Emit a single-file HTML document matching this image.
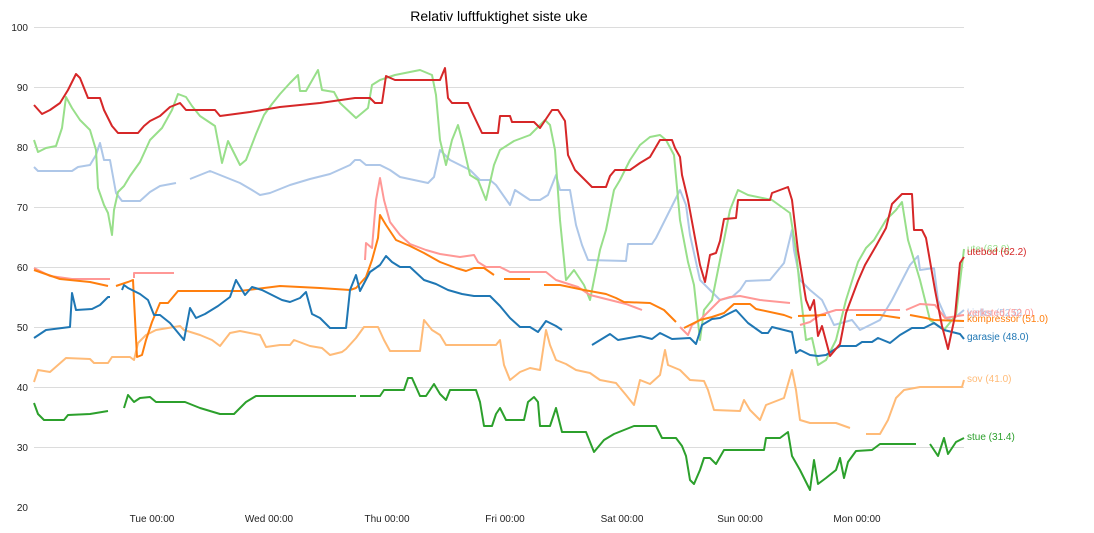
<!DOCTYPE html>
<html><head><meta charset="utf-8"><style>
body{margin:0;background:#fff;}
svg{display:block;font-family:"Liberation Sans","DejaVu Sans",sans-serif;}
</style></head><body>
<svg width="1094" height="533" viewBox="0 0 1094 533" xmlns="http://www.w3.org/2000/svg">
<text x="499" y="21" font-size="14" text-anchor="middle" fill="#000">Relativ luftfuktighet siste uke</text>
<g stroke="#dcdcdc" stroke-width="1">
<line x1="34" x2="964" y1="27.5" y2="27.5"/><line x1="34" x2="964" y1="87.5" y2="87.5"/><line x1="34" x2="964" y1="147.5" y2="147.5"/><line x1="34" x2="964" y1="207.5" y2="207.5"/><line x1="34" x2="964" y1="267.5" y2="267.5"/><line x1="34" x2="964" y1="327.5" y2="327.5"/><line x1="34" x2="964" y1="387.5" y2="387.5"/><line x1="34" x2="964" y1="447.5" y2="447.5"/>
</g>
<g font-size="10" fill="#222" text-anchor="end">
<text x="28" y="31">100</text><text x="28" y="91">90</text><text x="28" y="151">80</text><text x="28" y="211">70</text><text x="28" y="271">60</text><text x="28" y="331">50</text><text x="28" y="391">40</text><text x="28" y="451">30</text><text x="28" y="511">20</text>
</g>
<g font-size="10" fill="#222" text-anchor="middle">
<text x="152" y="522">Tue 00:00</text><text x="269" y="522">Wed 00:00</text><text x="387" y="522">Thu 00:00</text><text x="505" y="522">Fri 00:00</text><text x="622" y="522">Sat 00:00</text><text x="740" y="522">Sun 00:00</text><text x="857" y="522">Mon 00:00</text>
</g>
<g fill="none" stroke-width="2" stroke-linejoin="round">
<path stroke="#aec7e8" d="M34,167L38,171L72,171L78,167L90,165L96,155L100,143L104,160L110,160L116,193L122,201L140,201L150,192L160,186L176,183M190,179L210,171L225,177L240,183L252,190L260,195L270,193L290,185L310,179L330,174L350,165L355,160L360,160L366,165L380,165L390,170L400,177L428,183L434,177L440,150L450,160L470,170L480,180L490,180L496,185L510,205L515,190L530,200L540,200L548,195L556,175L560,190L570,190L576,225L582,245L588,260L626,261L628,244L652,244L656,238L670,210L680,190L686,205L690,235L700,280L720,300L732,297L740,290L746,281L770,280L784,263L792,230L794,250L800,280L810,290L822,300L834,325L852,320L860,330L880,320L892,300L910,265L918,256L920,270L934,268L938,300L946,318L952,320L964,310"/>
<path stroke="#98df8a" d="M34,140L38,152L46,148L56,146L62,128L66,97L72,108L80,120L90,130L96,150L98,188L104,205L108,213L112,235L114,210L118,192L124,186L130,176L140,162L150,140L162,128L172,110L178,94L186,97L192,106L200,116L215,126L222,163L228,141L240,165L246,160L256,134L264,115L272,104L280,94L290,83L298,75L300,91L306,91L318,70L322,90L334,92L340,103L356,118L368,108L372,85L380,80L395,75L420,70L432,75L436,95L440,140L446,165L452,140L458,125L462,140L470,175L478,180L486,200L494,165L500,150L514,141L530,135L545,120L550,125L555,150L560,220L566,280L574,270L584,285L590,300L600,250L606,230L614,190L620,180L630,160L640,145L650,137L660,135L666,140L674,155L680,220L688,262L694,285L700,340L704,310L712,300L722,250L730,210L738,190L748,195L772,200L790,213L796,250L800,290L806,340L812,338L818,365L826,360L836,340L846,300L858,262L866,248L874,240L886,220L896,210L902,202L908,240L920,280L930,320L944,330L956,315L964,249"/>
<path stroke="#ffbb78" d="M34,382L38,370L50,372L66,358L90,359L94,363L108,363L112,357L130,357L134,360L138,343L146,335L156,330L180,326L184,330L200,335L212,340L220,346L230,333L240,331L260,335L266,347L280,345L290,345L294,340L310,346L322,348L330,355L342,352L346,349L356,338L364,327L378,327L384,340L390,351L420,351L424,320L432,330L440,335L446,345L496,345L500,340L504,365L510,380L520,372L530,368L540,370L546,330L550,345L556,360L566,364L576,370L590,373L600,380L616,383L626,395L634,405L640,380L650,384L660,375L665,350L668,365L680,370L690,380L704,381L708,390L714,410L740,411L744,400L750,410L760,420L766,405L784,398L792,370L796,390L800,420L810,423L836,423L850,428M866,434L880,434L888,420L896,398L904,390L920,387L962,387L964,380"/>
<path stroke="#ff9896" d="M34,268L50,276L72,279L110,279M134,278L134,273L174,273M365,260L366,243L372,248L376,200L380,178L384,200L390,222L400,235L410,244L426,250L440,254L460,257L474,255L478,262L486,267L500,267L510,272L546,272L556,280L578,287L590,295L610,300L626,304L642,310M680,327L688,335L692,325L700,320L710,310L720,300L730,297L740,296L760,300L790,303M800,325L810,322L820,315L836,310L900,310M906,310L920,304L935,305L945,318L964,315"/>
<path stroke="#ff7f0e" d="M34,270L60,279L90,282L108,286M116,286L128,282L133,280L134,300L137,357L142,355L146,340L152,322L160,303L168,303L178,291L240,291L280,286L320,288L350,290L356,288L366,277L372,260L378,238L380,215L386,225L396,240L410,246L424,253L440,262L456,268L466,271L474,268L484,268L494,275M504,279L530,279M544,285L560,285L584,290L606,294L616,298L624,302L650,303L664,310L676,322M684,328L700,320L712,317L724,313L734,304L750,304L756,309L784,315L792,318M798,316L826,315M856,315L880,315L900,318M910,315L926,318L934,320L964,321"/>
<path stroke="#1f77b4" d="M34,338L40,334L46,330L70,327L72,293L76,310L92,309L100,305L108,297L110,297M122,290L124,285L128,288L140,294L148,300L154,315L160,315L170,323L184,340L190,308L196,318L205,314L218,306L230,297L236,280L245,295L252,287L262,290L272,295L282,300L290,302L300,298L306,292L312,314L320,318L330,328L346,328L350,290L356,275L360,291L370,272L380,265L386,256L392,262L400,267L410,267L424,280L436,284L448,290L462,294L474,296L490,296L500,306L510,318L520,327L530,327L538,332L546,321L556,326L562,330M592,345L610,334L618,340L640,336L652,339L660,333L672,339L690,338L696,344L702,325L712,319L720,318L736,310L748,323L762,333L768,333L772,327L792,332L796,353L800,350L810,355L818,356L826,355L840,346L856,346L862,342L872,342L878,338L890,343L900,335L912,328L924,328L934,323L944,330L960,334L964,339"/>
<path stroke="#2ca02c" d="M34,403L38,414L44,420L64,420L68,415L90,414L108,411M124,408L128,395L134,402L140,398L150,397L156,402L185,402L200,408L220,414L234,414L246,402L256,396L356,396M360,396L380,396L384,390L404,390L408,378L412,378L420,396L426,396L430,390L434,384L440,394L446,400L450,390L476,390L480,402L484,426L492,426L496,414L500,408L506,420L524,420L528,402L534,397L538,402L540,426L550,426L556,408L562,432L576,432L586,432L594,452L604,440L614,434L624,430L634,426L656,426L662,438L676,438L682,446L686,456L690,480L694,484L700,470L704,458L710,458L716,464L724,450L764,450L766,438L780,438L788,432L792,456L800,470L810,490L814,460L818,484L826,478L836,470L840,458L844,478L848,462L856,451L872,450L880,444L916,444M930,444L938,456L944,438L948,454L956,442L964,438"/>
<path stroke="#d62728" d="M34,105L42,114L50,110L60,103L68,90L76,74L80,78L88,98L100,98L104,110L112,126L118,133L138,133L144,126L150,121L160,116L170,107L180,103L186,110L215,110L220,116L250,112L280,107L320,103L355,98L370,98L375,103L382,103L386,76L395,80L440,80L445,68L448,98L452,103L468,103L472,112L482,133L498,133L500,116L510,116L512,122L534,122L540,128L544,122L552,110L558,110L565,121L568,155L575,170L585,180L592,187L606,187L610,176L615,170L630,170L640,163L650,157L660,140L672,140L675,148L680,157L682,175L688,200L700,265L705,282L710,255L716,253L720,241L724,219L736,218L738,200L770,200L772,193L788,187L792,200L798,251L806,300L810,310L814,300L818,336L822,326L830,356L840,344L846,313L858,281L865,265L876,246L886,228L892,204L902,194L912,194L914,230L922,230L926,238L935,290L942,326L948,349L955,316L960,263L964,257"/>
</g>
<g font-size="10">
<text x="967" y="252" fill="#98df8a">ute (63.0)</text>
<text x="967" y="255" fill="#d62728">utebod (62.2)</text>
<text x="967" y="316" fill="#aec7e8">kjeller (52.0)</text>
<text x="967" y="316" fill="#ff9896">verksted (52.0)</text>
<text x="967" y="322" fill="#ff7f0e">kompressor (51.0)</text>
<text x="967" y="340" fill="#1f77b4">garasje (48.0)</text>
<text x="967" y="382" fill="#ffbb78">sov (41.0)</text>
<text x="967" y="440" fill="#2ca02c">stue (31.4)</text>
</g>
</svg>
</body></html>
